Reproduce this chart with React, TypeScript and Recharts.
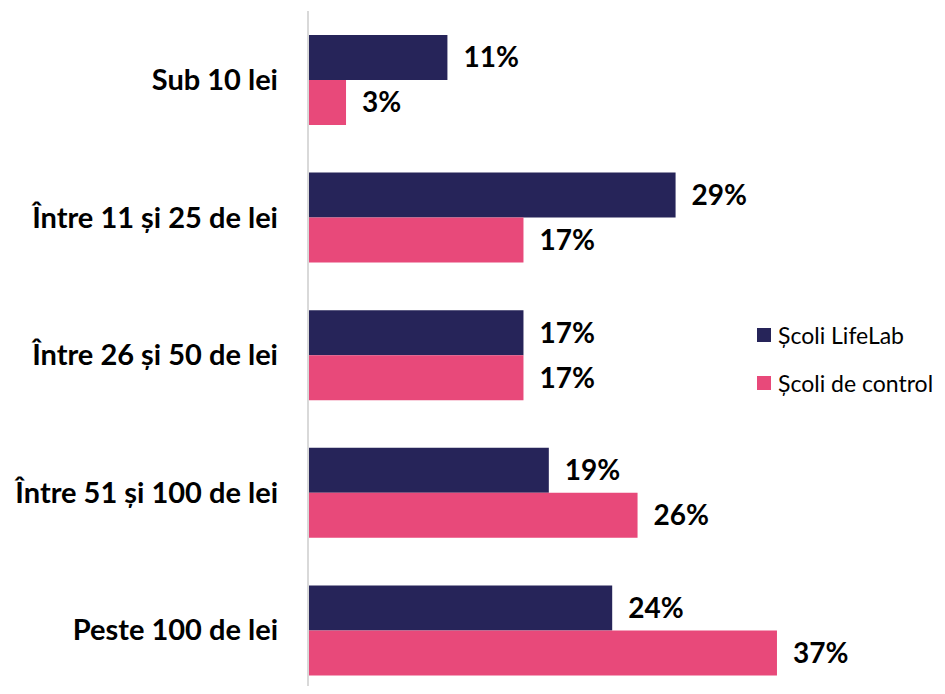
import { BarChart, Bar, XAxis, YAxis, LabelList } from "recharts";

const categories = [
  "Sub 10 lei",
  "Între 11 și 25 de lei",
  "Între 26 și 50 de lei",
  "Între 51 și 100 de lei",
  "Peste 100 de lei",
];
const lifelab = [11, 29, 17, 19, 24];
const control = [3, 17, 17, 26, 37];
const seriesNames = ["Școli LifeLab", "Școli de control"];
const colors = ["#262459", "#E8497A"];

const data = categories.map((name, i) => ({
  name,
  lifelab: lifelab[i],
  control: control[i],
}));

const font = "Lato, 'Open Sans', sans-serif";

function Legend() {
  return (
    <div style={{ position: "absolute", left: 757, top: 320, fontFamily: font, fontSize: 23, whiteSpace: "nowrap" }}>
      {seriesNames.map((n, i) => (
        <div key={n} style={{ display: "flex", alignItems: "center", height: 30, marginBottom: i === 0 ? 18 : 0 }}>
          <span style={{ width: 14, height: 14, background: colors[i], marginRight: 7, display: "inline-block", flexShrink: 0 }} />
          <span>{n}</span>
        </div>
      ))}
    </div>
  );
}

export default function App() {
  return (
    <div style={{ margin: -8, position: "relative", width: 945, height: 694, overflow: "hidden", background: "#fff" }}>
      <BarChart
        width={945}
        height={699}
        data={data}
        layout="vertical"
        margin={{ top: 11, right: 130, bottom: 0, left: 0 }}
        barGap={0}
      >
        <XAxis type="number" domain={[0, 40]} hide />
        <YAxis
          type="category"
          dataKey="name"
          width={308}
          tickLine={false}
          tickSize={0}
          tickMargin={30}
          axisLine={{ stroke: "#d9d9d9", strokeWidth: 2 }}
          tick={{ fill: "#000", fontFamily: font, fontWeight: 700, fontSize: 29 }}
        />
        <Bar dataKey="lifelab" fill={colors[0]} barSize={45} isAnimationActive={false}>
          <LabelList
            dataKey="lifelab"
            position="right"
            offset={16}
            formatter={(v: number) => `${v}%`}
            style={{ fill: "#000", fontFamily: font, fontWeight: 700, fontSize: 28 }}
          />
        </Bar>
        <Bar dataKey="control" fill={colors[1]} barSize={45} isAnimationActive={false}>
          <LabelList
            dataKey="control"
            position="right"
            offset={16}
            formatter={(v: number) => `${v}%`}
            style={{ fill: "#000", fontFamily: font, fontWeight: 700, fontSize: 28 }}
          />
        </Bar>
      </BarChart>
      <Legend />
    </div>
  );
}
